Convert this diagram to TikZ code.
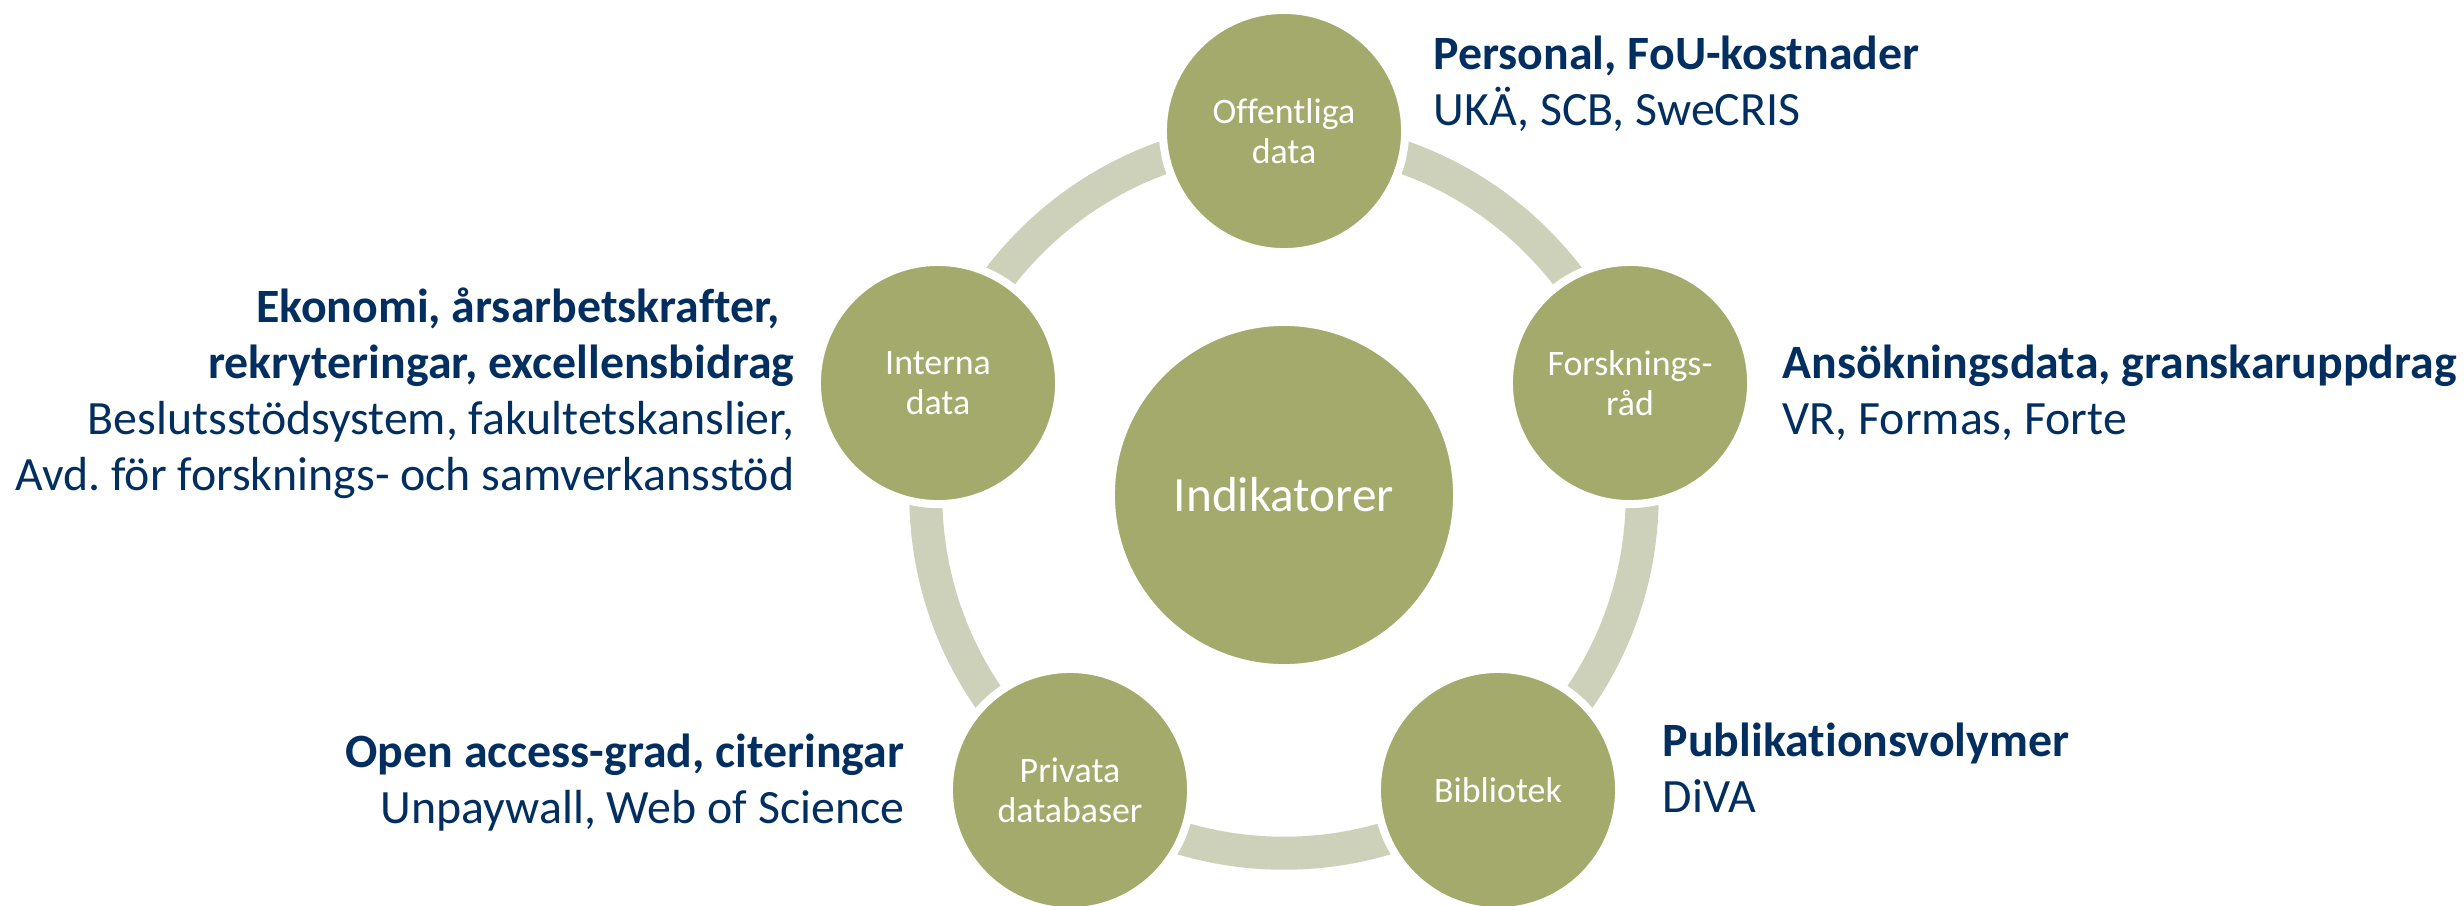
\documentclass[tikz,border=0pt]{standalone}
\usepackage{fontspec}
\setmainfont[Ligatures=NoCommon]{Carlito}
\usepackage{xcolor}
\definecolor{hubgreen}{HTML}{A4AA6C}
\definecolor{ringgrey}{HTML}{CDD1BA}
\definecolor{infoblue}{HTML}{032F60}

\begin{document}
\begin{tikzpicture}[x=0.01cm,y=-0.01cm]

\tikzset{hub/.style = {shape=circle,fill=hubgreen,draw=white,line width=0.08cm,minimum size=2.42cm,inner sep=0pt,text=white,align=center,font=\fontsize{10.2}{11.4}\selectfont}}
\tikzset{core/.style = {hub,minimum size=3.46cm,font=\fontsize{14}{17}\selectfont}}
\tikzset{ring/.style = {draw=ringgrey,line width=0.33cm}}
\tikzset{info/.style = {text=infoblue,inner sep=0pt,font=\fontsize{13.6}{15.9}\selectfont}}

\useasboundingbox (0,0) rectangle (2464,905);

\node[core] (ind) at (1284,495) {Indikatorer};

%ring
\draw[ring] (ind.center) circle (3.58cm);

\node[hub] (off) at (1284,131) {Offentliga\\data};
\node[hub] (fr) at (1630,383) {Forsknings-\\råd};
\node[hub] (bib) at (1498,790) {Bibliotek};
\node[hub] (priv) at (1070,790) {Privata\\databaser};
\node[hub] (int) at (938,383) {Interna\\data};

%sources
\node[info,anchor=base west,align=left] (offinfo) at (1433,125) {\textbf{Personal, FoU-kostnader}\\UKÄ, SCB, SweCRIS};
\node[info,anchor=base west,align=left] (frinfo) at (1782,434) {\textbf{Ansökningsdata, granskaruppdrag}\\VR, Formas, Forte};
\node[info,anchor=base west,align=left] (bibinfo) at (1662,812) {\textbf{Publikationsvolymer}\\DiVA};
\node[info,anchor=base east,align=right] (privinfo) at (905,823) {\textbf{Open access-grad, citeringar}\\Unpaywall, Web of Science};
\node[info,anchor=base east,align=right] (intinfo) at (795,490) {\textbf{Ekonomi, årsarbetskrafter,\kern.3em}\\\textbf{rekryteringar, excellensbidrag}\\Beslutsstödsystem, fakultetskanslier,\\Avd.\ för forsknings- och samverkansstöd};
\end{tikzpicture}
\end{document}
